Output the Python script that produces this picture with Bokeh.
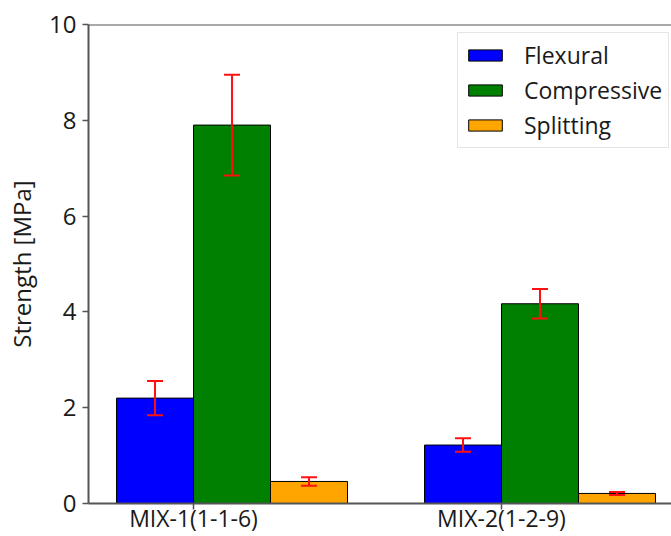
from bokeh.plotting import figure
from bokeh.models import (ColumnDataSource, Whisker, TeeHead, FixedTicker, Span,
                          Legend, LegendItem, Range1d)
from bokeh.embed import file_html
from bokeh.resources import INLINE

groups = ["MIX-1(1-1-6)", "MIX-2(1-2-9)"]
series = ["Flexural", "Compressive", "Splitting"]
flexural = [2.20, 1.22]
flexural_err = [0.36, 0.14]
compressive = [7.90, 4.17]
compressive_err = [1.05, 0.31]
splitting = [0.46, 0.21]
splitting_err = [0.09, 0.03]
colors = ["#0000ff", "#008000", "#ffa500"]
y_ticks = [0, 2, 4, 6, 8, 10]

values = [flexural, compressive, splitting]
errors = [flexural_err, compressive_err, splitting_err]

BAR_W = 0.25
FONT = "Open Sans"
TXT = "#1a1a1a"
SPINE = "#555555"

p = figure(width=671, height=536, x_range=Range1d(-0.341, 1.552), y_range=Range1d(0, 10),
           output_backend="svg", toolbar_location=None,
           min_border_left=88, min_border_right=0, min_border_top=24, min_border_bottom=33)

items = []
for i, name in enumerate(series):
    xs = [g + (i - 0.5) * BAR_W for g in range(len(groups))]
    src = ColumnDataSource(dict(
        x=xs, top=values[i],
        upper=[v + e for v, e in zip(values[i], errors[i])],
        lower=[v - e for v, e in zip(values[i], errors[i])],
    ))
    r = p.vbar(x="x", top="top", width=BAR_W, source=src, fill_color=colors[i],
               line_color="black", line_width=1)
    items.append(LegendItem(label=name, renderers=[r]))
    w = Whisker(base="x", upper="upper", lower="lower", source=src, level="overlay",
                line_color="#ff1010", line_width=2,
                upper_head=TeeHead(size=16, line_color="#ff1010", line_width=2),
                lower_head=TeeHead(size=16, line_color="#ff1010", line_width=2))
    p.add_layout(w)

p.xgrid.visible = False
p.ygrid.visible = False
p.outline_line_color = None
p.add_layout(Span(location=10, dimension="width", line_color=SPINE, line_width=2))

p.xaxis.ticker = FixedTicker(ticks=list(range(len(groups))))
p.xaxis.major_label_overrides = {i: g for i, g in enumerate(groups)}
p.yaxis.ticker = FixedTicker(ticks=y_ticks)
for ax in (p.xaxis, p.yaxis):
    ax.axis_line_color = SPINE
    ax.axis_line_width = 2
    ax.major_tick_line_color = SPINE
    ax.major_tick_line_width = 1.5
    ax.major_tick_in = 0
    ax.major_tick_out = 6
    ax.minor_tick_line_color = None
    ax.major_label_text_font = FONT
    ax.major_label_text_color = TXT

p.xaxis.major_label_text_font_size = "23px"
p.xaxis.major_label_standoff = -8
p.yaxis.major_label_text_font_size = "24px"
p.yaxis.major_label_standoff = 6
p.yaxis.axis_label = "Strength [MPa]"
p.yaxis.axis_label_text_font = FONT
p.yaxis.axis_label_text_font_size = "24px"
p.yaxis.axis_label_text_font_style = "normal"
p.yaxis.axis_label_text_color = TXT
p.yaxis.axis_label_standoff = 8

legend = Legend(items=items, location=(369, 355), margin=0,
                glyph_width=42, glyph_height=14, label_standoff=18,
                label_text_font=FONT, label_text_font_size="23px", label_text_color=TXT,
                label_height=14, spacing=3, padding=6,
                border_line_color="#cccccc", border_line_width=1.5,
                background_fill_alpha=1.0)
p.add_layout(legend)

open("out.html", "w").write(file_html(p, INLINE))
